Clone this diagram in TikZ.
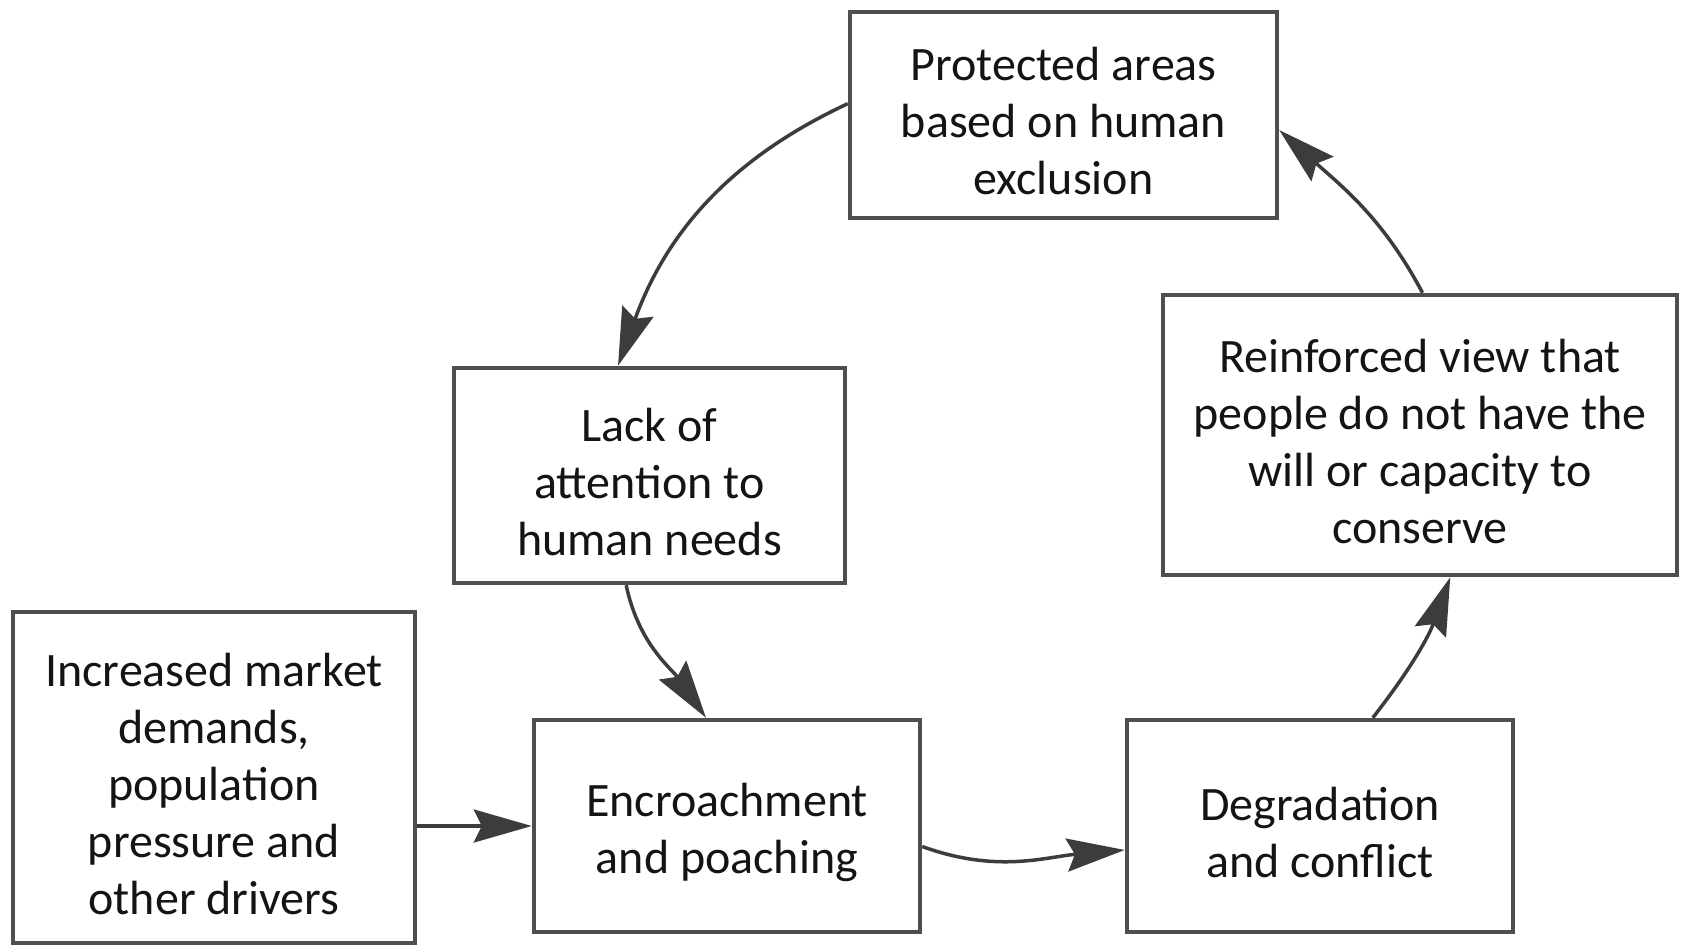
\documentclass[tikz,border=0pt]{standalone}
\usepackage{fontspec}
\setmainfont{Carlito}
\usetikzlibrary{arrows.meta}
\definecolor{linegray}{HTML}{3C3C3C}
\definecolor{boxgray}{HTML}{4F4F4F}
\newcommand{\firstlinestrut}{\rule{0pt}{46pt}}
\begin{document}
\begin{tikzpicture}[x=1pt,y=1pt,
  box/.style={draw=boxgray, line width=4.5pt, fill=white, align=center, inner sep=0pt,
    font=\fontsize{48}{57}\selectfont, text=black!92},
  conn/.style={draw=linegray, line width=3.5pt,
    -{Stealth[length=58pt,width=33pt,inset=8pt]}}]
\useasboundingbox[fill=white] (0,0) rectangle (1684,-947);

\node[box, minimum width=427pt, minimum height=206pt] (prot) at (1063.5,-115)
  {\firstlinestrut Protected areas\\based on human\\exclusion};
\node[box, minimum width=391pt, minimum height=215pt] (lack) at (649.5,-475.5)
  {\firstlinestrut Lack of\\attention to\\human needs};
\node[box, minimum width=402pt, minimum height=331pt] (inc) at (214,-777.5)
  {\firstlinestrut Increased market\\demands,\\population\\pressure and\\other drivers};
\node[box, minimum width=386pt, minimum height=212pt] (enc) at (727,-826)
  {\firstlinestrut Encroachment\\and poaching};
\node[box, minimum width=386pt, minimum height=212pt] (deg) at (1320,-826)
  {\firstlinestrut Degradation\\and conflict};
\node[box, minimum width=514pt, minimum height=280pt] (rein) at (1420,-435)
  {\firstlinestrut Reinforced view that\\people do not have the\\will or capacity to\\conserve};

\draw[conn] (prot.177) to[out=205,in=70] (lack.106);
\draw[conn] (lack.-102) to[out=-78,in=125] (enc.101);
\draw[conn] (inc.east |- enc.west) -- (enc.west);
\draw[conn] (enc.-6) to[out=-20,in=185] (deg.187);
\draw[conn] (deg.64) to[out=52,in=250] (rein.-78);
\draw[conn] (rein.89) to[out=118,in=-42] (prot.-4);
\end{tikzpicture}
\end{document}
